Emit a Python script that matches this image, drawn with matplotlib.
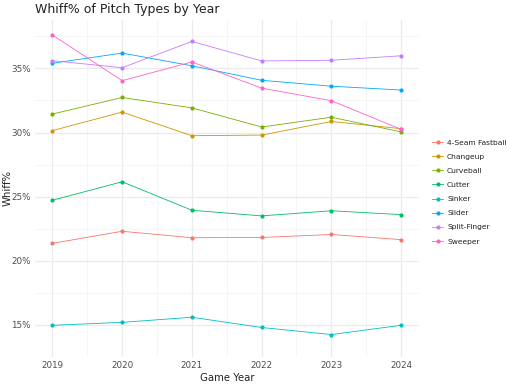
import matplotlib
matplotlib.use("Agg")
import matplotlib.pyplot as plt
from matplotlib.lines import Line2D

years = [2019, 2020, 2021, 2022, 2023, 2024]
pitch_types = ["4-Seam Fastball", "Changeup", "Curveball", "Cutter",
               "Sinker", "Slider", "Split-Finger", "Sweeper"]
fastball = [21.36, 22.30, 21.80, 21.82, 22.05, 21.65]
changeup = [30.15, 31.59, 29.75, 29.80, 30.86, 30.30]
curveball = [31.44, 32.73, 31.92, 30.43, 31.19, 30.05]
cutter = [24.72, 26.16, 23.94, 23.50, 23.90, 23.60]
sinker = [14.97, 15.20, 15.60, 14.80, 14.25, 14.97]
slider = [35.40, 36.19, 35.20, 34.07, 33.61, 33.31]
splitter = [35.60, 35.05, 37.10, 35.58, 35.63, 35.98]
sweeper = [37.60, 34.04, 35.50, 33.46, 32.48, 30.25]
series = [fastball, changeup, curveball, cutter, sinker, slider, splitter, sweeper]
colors = ["#F8766D", "#CD9600", "#7CAE00", "#00BE67",
          "#00BFC4", "#00A9FF", "#C77CFF", "#FF61CC"]
y_ticks = [15, 20, 25, 30, 35]
y_tick_labels = ["15%", "20%", "25%", "30%", "35%"]

fig = plt.figure(figsize=(5.12, 3.86), dpi=100)
ax = fig.add_axes([35/512, 29/386, (418.5-35)/512, (357-20)/386])

for vals, c in zip(series, colors):
    ax.plot(years, vals, color=c, lw=0.6, zorder=3)
    ax.plot(years, vals, 'o', color=c, ms=3, mec='none', zorder=4)

ax.set_xlim(2018.75, 2024.25)
ax.set_ylim(13.08, 38.77)
ax.set_xticks(years)
ax.set_xticks([y + 0.5 for y in years[:-1]], minor=True)
ax.set_yticks(y_ticks)
ax.set_yticklabels(y_tick_labels)
ax.set_yticks([12.5, 17.5, 22.5, 27.5, 32.5, 37.5], minor=True)
ax.grid(which='major', color='#EBEBEB', lw=0.9)
ax.grid(which='minor', color='#F2F2F2', lw=0.5)
ax.set_axisbelow(True)
for s in ax.spines.values():
    s.set_visible(False)
ax.tick_params(which='both', length=0, labelsize=6.3, colors='#4D4D4D', pad=3)
ax.set_xlabel("Game Year", fontsize=7.3, color='#222222', labelpad=2)
fig.text(8/512, 1 - 188/386, "Whiff%", fontsize=7.3, color='#222222',
         rotation=90, ha='center', va='center')
fig.text(35/512, 1 - 9/386, "Whiff% of Pitch Types by Year", fontsize=9,
         color='#222222', va='center', ha='left')

handles = [Line2D([0], [0], color=c, lw=0.6, marker='o', ms=3, mec='none')
           for c in colors]
leg = fig.legend(handles, pitch_types, loc='center left',
                 bbox_to_anchor=(432/512, 1 - 192/386), frameon=False,
                 fontsize=5.4, handlelength=1.5, handletextpad=0.5,
                 labelspacing=1.05, borderaxespad=0, borderpad=0)
for t in leg.get_texts():
    t.set_color('#222222')

fig.savefig("out.png", dpi=100)
